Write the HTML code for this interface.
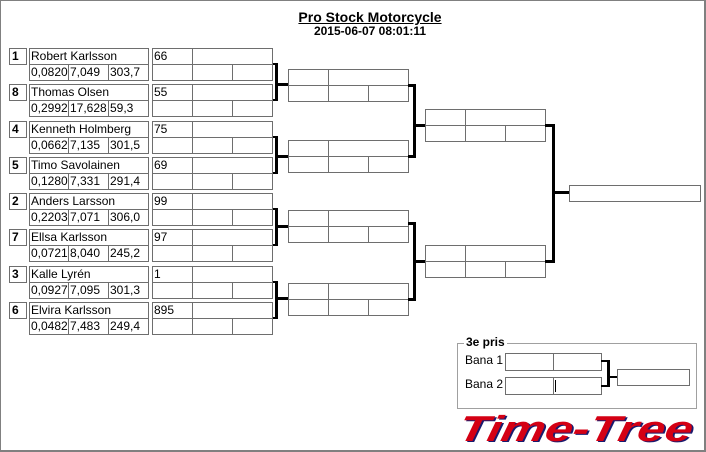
<!DOCTYPE html>
<html><head><meta charset="utf-8"><style>
html,body{margin:0;padding:0;background:#fff;}
body{width:706px;height:452px;position:relative;overflow:hidden;font-family:"Liberation Sans",sans-serif;}
.c{position:absolute;border:1px solid #6e6e6e;box-sizing:border-box;font-size:12px;line-height:15px;padding-left:1px;overflow:hidden;white-space:nowrap;color:#000;height:17px;}
.s{font-weight:bold;padding-left:2px;}
.k{position:absolute;background:#000;}
.frame{position:absolute;left:0;top:0;width:706px;height:452px;box-sizing:border-box;border:1px solid #808080;border-right-width:2px;border-bottom-width:2px;}
.t{position:absolute;left:0;width:740px;text-align:center;font-weight:bold;font-size:13px;}
</style></head><body>
<div class="frame"></div>
<div class="t" style="top:9px;text-decoration:underline;font-size:14px;">Pro Stock Motorcycle</div>
<div class="t" style="top:24px;font-size:12px;">2015-06-07 08:01:11</div>

<!-- entries -->
<div class="c s" style="left:9px;top:48px;width:18px">1</div>
<div class="c" style="left:29px;top:48px;width:120px">Robert Karlsson</div>
<div class="c" style="left:29px;top:64px;width:40px">0,0820</div><div class="c" style="left:68px;top:64px;width:41px">7,049</div><div class="c" style="left:108px;top:64px;width:41px">303,7</div>
<div class="c" style="left:152px;top:48px;width:41px">66</div><div class="c" style="left:192px;top:48px;width:81px"></div>
<div class="c" style="left:152px;top:64px;width:41px"></div><div class="c" style="left:192px;top:64px;width:41px"></div><div class="c" style="left:232px;top:64px;width:41px"></div>

<div class="c s" style="left:9px;top:84px;width:18px">8</div>
<div class="c" style="left:29px;top:84px;width:120px">Thomas Olsen</div>
<div class="c" style="left:29px;top:100px;width:40px">0,2992</div><div class="c" style="left:68px;top:100px;width:41px">17,628</div><div class="c" style="left:108px;top:100px;width:41px">59,3</div>
<div class="c" style="left:152px;top:84px;width:41px">55</div><div class="c" style="left:192px;top:84px;width:81px"></div>
<div class="c" style="left:152px;top:100px;width:41px"></div><div class="c" style="left:192px;top:100px;width:41px"></div><div class="c" style="left:232px;top:100px;width:41px"></div>

<div class="c s" style="left:9px;top:121px;width:18px">4</div>
<div class="c" style="left:29px;top:121px;width:120px">Kenneth Holmberg</div>
<div class="c" style="left:29px;top:137px;width:40px">0,0662</div><div class="c" style="left:68px;top:137px;width:41px">7,135</div><div class="c" style="left:108px;top:137px;width:41px">301,5</div>
<div class="c" style="left:152px;top:121px;width:41px">75</div><div class="c" style="left:192px;top:121px;width:81px"></div>
<div class="c" style="left:152px;top:137px;width:41px"></div><div class="c" style="left:192px;top:137px;width:41px"></div><div class="c" style="left:232px;top:137px;width:41px"></div>

<div class="c s" style="left:9px;top:157px;width:18px">5</div>
<div class="c" style="left:29px;top:157px;width:120px">Timo Savolainen</div>
<div class="c" style="left:29px;top:173px;width:40px">0,1280</div><div class="c" style="left:68px;top:173px;width:41px">7,331</div><div class="c" style="left:108px;top:173px;width:41px">291,4</div>
<div class="c" style="left:152px;top:157px;width:41px">69</div><div class="c" style="left:192px;top:157px;width:81px"></div>
<div class="c" style="left:152px;top:173px;width:41px"></div><div class="c" style="left:192px;top:173px;width:41px"></div><div class="c" style="left:232px;top:173px;width:41px"></div>

<div class="c s" style="left:9px;top:193px;width:18px">2</div>
<div class="c" style="left:29px;top:193px;width:120px">Anders Larsson</div>
<div class="c" style="left:29px;top:209px;width:40px">0,2203</div><div class="c" style="left:68px;top:209px;width:41px">7,071</div><div class="c" style="left:108px;top:209px;width:41px">306,0</div>
<div class="c" style="left:152px;top:193px;width:41px">99</div><div class="c" style="left:192px;top:193px;width:81px"></div>
<div class="c" style="left:152px;top:209px;width:41px"></div><div class="c" style="left:192px;top:209px;width:41px"></div><div class="c" style="left:232px;top:209px;width:41px"></div>

<div class="c s" style="left:9px;top:229px;width:18px">7</div>
<div class="c" style="left:29px;top:229px;width:120px">Ellsa Karlsson</div>
<div class="c" style="left:29px;top:245px;width:40px">0,0721</div><div class="c" style="left:68px;top:245px;width:41px">8,040</div><div class="c" style="left:108px;top:245px;width:41px">245,2</div>
<div class="c" style="left:152px;top:229px;width:41px">97</div><div class="c" style="left:192px;top:229px;width:81px"></div>
<div class="c" style="left:152px;top:245px;width:41px"></div><div class="c" style="left:192px;top:245px;width:41px"></div><div class="c" style="left:232px;top:245px;width:41px"></div>

<div class="c s" style="left:9px;top:266px;width:18px">3</div>
<div class="c" style="left:29px;top:266px;width:120px">Kalle Lyrén</div>
<div class="c" style="left:29px;top:282px;width:40px">0,0927</div><div class="c" style="left:68px;top:282px;width:41px">7,095</div><div class="c" style="left:108px;top:282px;width:41px">301,3</div>
<div class="c" style="left:152px;top:266px;width:41px">1</div><div class="c" style="left:192px;top:266px;width:81px"></div>
<div class="c" style="left:152px;top:282px;width:41px"></div><div class="c" style="left:192px;top:282px;width:41px"></div><div class="c" style="left:232px;top:282px;width:41px"></div>

<div class="c s" style="left:9px;top:302px;width:18px">6</div>
<div class="c" style="left:29px;top:302px;width:120px">Elvira Karlsson</div>
<div class="c" style="left:29px;top:318px;width:40px">0,0482</div><div class="c" style="left:68px;top:318px;width:41px">7,483</div><div class="c" style="left:108px;top:318px;width:41px">249,4</div>
<div class="c" style="left:152px;top:302px;width:41px">895</div><div class="c" style="left:192px;top:302px;width:81px"></div>
<div class="c" style="left:152px;top:318px;width:41px"></div><div class="c" style="left:192px;top:318px;width:41px"></div><div class="c" style="left:232px;top:318px;width:41px"></div>

<!-- round1 brackets -->
<div class="k" style="left:273px;top:63px;width:4px;height:2px"></div><div class="k" style="left:273px;top:99px;width:4px;height:2px"></div>
<div class="k" style="left:275px;top:63px;width:3px;height:38px"></div><div class="k" style="left:275px;top:83px;width:14px;height:3px"></div>
<div class="k" style="left:273px;top:136px;width:4px;height:2px"></div><div class="k" style="left:273px;top:172px;width:4px;height:2px"></div>
<div class="k" style="left:275px;top:136px;width:3px;height:38px"></div><div class="k" style="left:275px;top:155px;width:14px;height:3px"></div>
<div class="k" style="left:273px;top:208px;width:4px;height:2px"></div><div class="k" style="left:273px;top:244px;width:4px;height:2px"></div>
<div class="k" style="left:275px;top:208px;width:3px;height:38px"></div><div class="k" style="left:275px;top:225px;width:14px;height:3px"></div>
<div class="k" style="left:273px;top:281px;width:4px;height:2px"></div><div class="k" style="left:273px;top:317px;width:4px;height:2px"></div>
<div class="k" style="left:275px;top:281px;width:3px;height:38px"></div><div class="k" style="left:275px;top:297px;width:14px;height:3px"></div>

<!-- round2 boxes -->
<div class="c" style="left:288px;top:69px;width:41px"></div><div class="c" style="left:328px;top:69px;width:81px"></div>
<div class="c" style="left:288px;top:85px;width:41px"></div><div class="c" style="left:328px;top:85px;width:41px"></div><div class="c" style="left:368px;top:85px;width:41px"></div>
<div class="c" style="left:288px;top:140px;width:41px"></div><div class="c" style="left:328px;top:140px;width:81px"></div>
<div class="c" style="left:288px;top:156px;width:41px"></div><div class="c" style="left:328px;top:156px;width:41px"></div><div class="c" style="left:368px;top:156px;width:41px"></div>
<div class="c" style="left:288px;top:210px;width:41px"></div><div class="c" style="left:328px;top:210px;width:81px"></div>
<div class="c" style="left:288px;top:226px;width:41px"></div><div class="c" style="left:328px;top:226px;width:41px"></div><div class="c" style="left:368px;top:226px;width:41px"></div>
<div class="c" style="left:288px;top:283px;width:41px"></div><div class="c" style="left:328px;top:283px;width:81px"></div>
<div class="c" style="left:288px;top:299px;width:41px"></div><div class="c" style="left:328px;top:299px;width:41px"></div><div class="c" style="left:368px;top:299px;width:41px"></div>

<!-- round2 brackets -->
<div class="k" style="left:408px;top:84px;width:6px;height:3px"></div><div class="k" style="left:408px;top:155px;width:6px;height:3px"></div>
<div class="k" style="left:413px;top:84px;width:3px;height:74px"></div><div class="k" style="left:413px;top:124px;width:12px;height:3px"></div>
<div class="k" style="left:408px;top:222px;width:6px;height:3px"></div><div class="k" style="left:408px;top:298px;width:6px;height:3px"></div>
<div class="k" style="left:413px;top:222px;width:3px;height:79px"></div><div class="k" style="left:413px;top:260px;width:12px;height:3px"></div>

<!-- round3 -->
<div class="c" style="left:425px;top:109px;width:41px"></div><div class="c" style="left:465px;top:109px;width:81px"></div>
<div class="c" style="left:425px;top:125px;width:41px"></div><div class="c" style="left:465px;top:125px;width:41px"></div><div class="c" style="left:505px;top:125px;width:41px"></div>
<div class="c" style="left:425px;top:245px;width:41px"></div><div class="c" style="left:465px;top:245px;width:81px"></div>
<div class="c" style="left:425px;top:261px;width:41px"></div><div class="c" style="left:465px;top:261px;width:41px"></div><div class="c" style="left:505px;top:261px;width:41px"></div>

<div class="k" style="left:545px;top:124px;width:8px;height:3px"></div><div class="k" style="left:545px;top:260px;width:8px;height:3px"></div>
<div class="k" style="left:552px;top:124px;width:3px;height:139px"></div><div class="k" style="left:552px;top:191px;width:17px;height:3px"></div>
<div class="c" style="left:569px;top:185px;width:132px"></div>

<!-- 3e pris -->
<div style="position:absolute;left:457px;top:343px;width:240px;height:66px;box-sizing:border-box;border:1px solid #a0a0a0;"></div>
<div style="position:absolute;left:464px;top:335px;background:#fff;padding:0 2px;font-weight:bold;font-size:12px;">3e pris</div>
<div style="position:absolute;left:465px;top:353px;font-size:12px;">Bana 1</div>
<div style="position:absolute;left:465px;top:377px;font-size:12px;">Bana 2</div>
<div class="c" style="left:505px;top:353px;width:49px;height:18px"></div><div class="c" style="left:553px;top:353px;width:49px;height:18px"></div>
<div class="c" style="left:505px;top:377px;width:49px;height:18px"></div><div class="c" style="left:553px;top:377px;width:49px;height:18px"></div>
<div class="k" style="left:555px;top:380px;width:1px;height:12px"></div>
<div class="k" style="left:601px;top:360px;width:8px;height:2px"></div><div class="k" style="left:601px;top:385px;width:8px;height:2px"></div>
<div class="k" style="left:607px;top:360px;width:3px;height:27px"></div><div class="k" style="left:607px;top:376px;width:10px;height:2px"></div>
<div class="c" style="left:617px;top:369px;width:73px"></div>

<svg style="position:absolute;left:450px;top:410px" width="256" height="40">
<text x="9" y="32" textLength="234" lengthAdjust="spacingAndGlyphs" font-family="Liberation Sans" font-weight="bold" font-style="italic" font-size="36" fill="#1a1a6e" transform="skewX(-12) translate(6,0)">Time-Tree</text>
<text x="7" y="31" textLength="234" lengthAdjust="spacingAndGlyphs" font-family="Liberation Sans" font-weight="bold" font-style="italic" font-size="36" fill="#d40014" transform="skewX(-12) translate(6,0)">Time-Tree</text>
</svg>
</body></html>
